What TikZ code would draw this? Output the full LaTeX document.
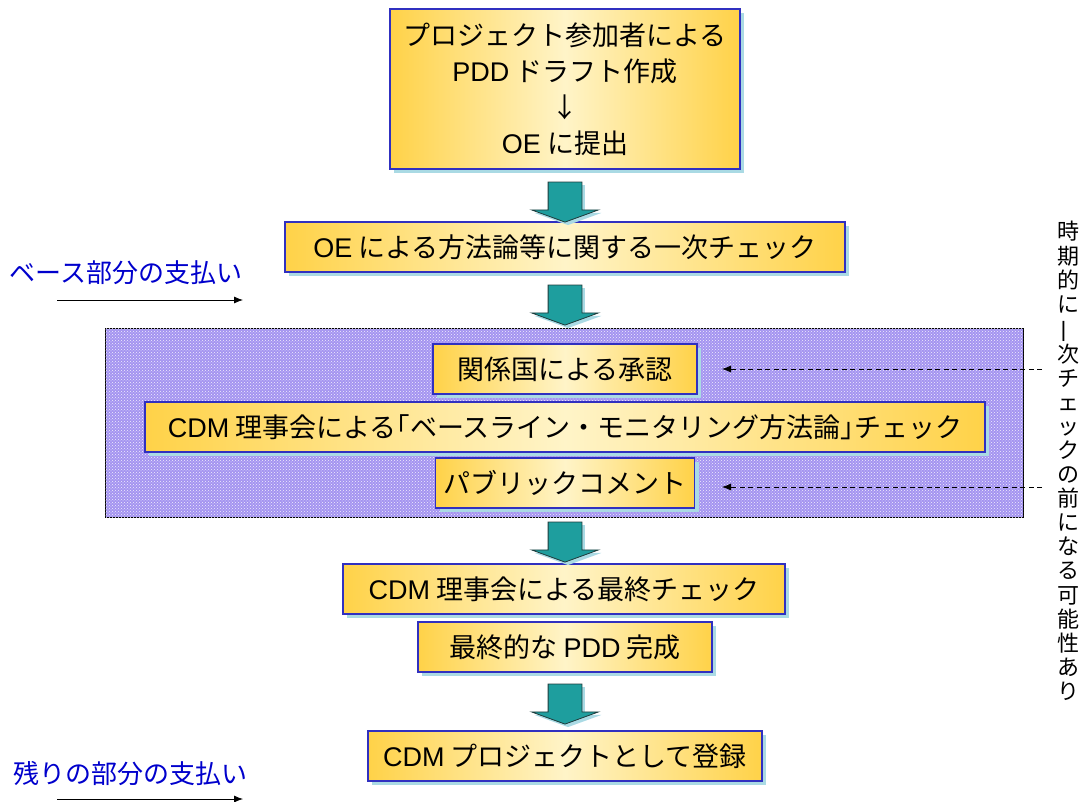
\documentclass[tikz,border=0pt]{standalone}
\usepackage{fontspec}
\setmainfont{Noto Sans CJK JP}
\newfontfamily\latin{Liberation Sans}
\usetikzlibrary{positioning,shapes.arrows,shadows,arrows.meta,patterns}
\definecolor{boxgold}{RGB}{255,210,72}
\definecolor{boxpale}{RGB}{255,244,200}
\definecolor{boxblue}{RGB}{48,48,192}
\definecolor{boxshadow}{RGB}{170,218,228}
\definecolor{arrowteal}{RGB}{30,158,158}
\definecolor{arrowedge}{RGB}{30,60,60}
\definecolor{panelpurple}{RGB}{164,148,240}
\definecolor{payblue}{RGB}{0,0,204}
\newcommand{\lt}[1]{{\latin #1}}
\begin{document}
\begin{tikzpicture}[x=1pt,y=-1pt,
  stepbox/.style={draw=boxblue,line width=1.2pt,left color=boxgold,right color=boxgold,middle color=boxpale,
    inner xsep=8pt,inner ysep=6pt,minimum height=50pt,font=\fontsize{27}{34}\selectfont,
    drop shadow={shadow xshift=4pt,shadow yshift=-4pt,fill=boxshadow,opacity=1}},
  flowarrow/.style={single arrow,shape border rotate=270,draw=arrowedge,fill=arrowteal,line width=0.8pt,
    minimum height=40pt,single arrow head extend=16.5pt,single arrow tip angle=140,inner sep=16.5pt,
    drop shadow={shadow xshift=3pt,shadow yshift=-3pt,fill=boxshadow,opacity=1}},
  paylabel/.style={text=payblue,font=\fontsize{26}{30}\selectfont,anchor=west},
  payarrow/.style={-{Latex[length=9pt,width=7pt]},line width=0.8pt},
  cue/.style={dash pattern=on 5pt off 3.5pt,-{Latex[length=9pt,width=7pt]},line width=0.8pt}]
\useasboundingbox (0,0) rectangle (1082,801);
% review panel
\node[draw=black,fill=panelpurple,line width=0.8pt,minimum width=918pt,minimum height=189pt,inner sep=0pt,
  postaction={pattern=crosshatch dots,pattern color=white!85!panelpurple}] (panel) at (564,422.5) {};
% main flow
\node[stepbox,align=center,minimum width=350pt,minimum height=160pt,font=\fontsize{27}{36}\selectfont] (draft) at (565,89)
  {プロジェクト参加者による\\\lt{PDD} ドラフト作成\\↓\\\lt{OE} に提出};
\node[stepbox,minimum width=560pt] (check) at (565,247) {\lt{OE} による方法論等に関する一次チェック};
\node[stepbox,minimum width=264pt] (approve) at (565,369) {関係国による承認};
\node[stepbox,minimum width=840pt] (board) at (565,427) {\lt{CDM} 理事会による｢ベースライン・モニタリング方法論｣チェック};
\node[stepbox,minimum width=250pt] (comment) at (565,483) {パブリックコメント};
\node[stepbox,minimum width=442pt] (final) at (564,589) {\lt{CDM} 理事会による最終チェック};
\node[stepbox,minimum width=294pt] (complete) at (565,647) {最終的な \lt{PDD} 完成};
\node[stepbox,minimum width=394pt] (register) at (565,756) {\lt{CDM} プロジェクトとして登録};
\node[flowarrow] (arr1) at (565,199) {};
\node[flowarrow] (arr2) at (565,302) {};
\node[flowarrow] (arr3) at (565,539) {};
\node[flowarrow] (arr4) at (565,701) {};
% payments
\node[paylabel] (basepay) at (6,273) {ベース部分の支払い};
\node[paylabel] (restpay) at (10,774) {残りの部分の支払い};
\coordinate (basefrom) at (57,300);
\coordinate (baseto) at (243,300);
\coordinate (restfrom) at (57,799);
\coordinate (restto) at (243,799);
\draw[payarrow] (basefrom) -- (baseto);
\draw[payarrow] (restfrom) -- (restto);
% timing note
\node[font=\fontsize{22}{24.1}\selectfont,align=center,inner sep=0pt] (timing) at (1068,461)
  {時\\期\\的\\に\\\rotatebox[origin=c]{90}{一}\\次\\チ\\ェ\\ッ\\ク\\の\\前\\に\\な\\る\\可\\能\\性\\あ\\り};
\coordinate (cueA) at (1042,369);
\coordinate (cueAend) at (722,369);
\coordinate (cueB) at (1042,487);
\coordinate (cueBend) at (722,487);
\draw[cue] (cueA) -- (cueAend);
\draw[cue] (cueB) -- (cueBend);
\end{tikzpicture}
\end{document}
